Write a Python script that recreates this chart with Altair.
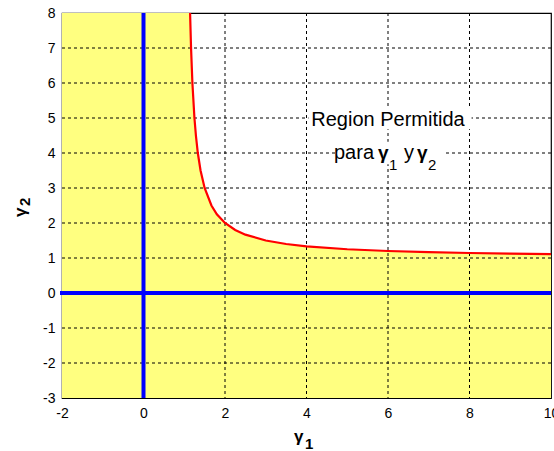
import altair as alt
import pandas as pd

# Curve gamma2 vs gamma1
curve_x = [1.143, 1.167, 1.2, 1.25, 1.286, 1.333, 1.4, 1.5, 1.667, 1.8, 2.0, 2.25, 2.5, 3.0, 3.5, 4.0, 5.0, 6.0, 7.0, 8.0, 9.0, 10.0]
curve_y = [8.0, 7.0, 6.0, 5.0, 4.5, 4.0, 3.5, 3.0, 2.5, 2.25, 2.0, 1.8, 1.667, 1.5, 1.4, 1.333, 1.25, 1.2, 1.167, 1.143, 1.125, 1.111]

x_ticks = [-2, 0, 2, 4, 6, 8, 10]
y_ticks = [-3, -2, -1, 0, 1, 2, 3, 4, 5, 6, 7, 8]
x_grid = [0, 2, 4, 6, 8]
y_grid = [-2, -1, 0, 1, 2, 3, 4, 5, 6, 7]

# annotation text pieces (rich text split into parts)
piece_text = ["Region Permitida", "para", "γ", "1", "y", "γ", "2"]
piece_size = [20, 20, 19, 15, 20, 19, 15]
piece_weight = ["normal", "normal", "bold", "normal", "normal", "bold", "normal"]
piece_align = ["center", "left", "left", "left", "left", "left", "left"]
piece_px = [326, 272, 316, 327, 342, 355, 366]
piece_py = [113, 146, 146, 157, 146, 146, 157]

title_text = ["γ", "1", "γ", "2"]
title_size = [17, 15, 17, 15]
title_angle = [0, 0, 270, 270]
title_px = [232, 243, -36, -32]
title_py = [429, 436, 204, 193]

box_x1 = [4.05, 4.75]
box_x2 = [8.05, 7.4]
box_y = [5.0, 4.0]

XMIN, XMAX, YMIN, YMAX = -2, 10, -3, 8

xs = alt.Scale(domain=[XMIN, XMAX], nice=False, zero=False)
ys = alt.Scale(domain=[YMIN, YMAX], nice=False, zero=False)

area_df = pd.DataFrame({
    "x": [XMIN] + curve_x,
    "y": [YMAX] + curve_y,
    "y0": [YMIN] * (len(curve_x) + 1),
})
curve_df = pd.DataFrame({"x": curve_x, "y": curve_y})

common = dict(grid=False, tickSize=0, labelFont="Liberation Sans", labelFontSize=14,
              labelColor="black", domain=False, title="",
              labelOverlap=False, labelFlush=False, labelExpr="'' + datum.value")
xaxis = alt.Axis(values=x_ticks, labelPadding=8, **common)
yaxis = alt.Axis(values=y_ticks, labelPadding=7, **common)

XQ = lambda f: alt.X(f, type="quantitative", scale=xs, axis=xaxis)
YQ = lambda f: alt.Y(f, type="quantitative", scale=ys, axis=yaxis)

area = alt.Chart(area_df).mark_area(color="#FFFF80", opacity=1, interpolate="linear").encode(
    x=XQ("x"), y=YQ("y"), y2="y0:Q",
)

vgrid = alt.Chart(pd.DataFrame({"x": x_grid})).mark_rule(
    color="black", strokeDash=[3, 3], strokeWidth=1).encode(
    x=XQ("x"), y=alt.value(0), y2=alt.value(385))
hgrid = alt.Chart(pd.DataFrame({"y": y_grid})).mark_rule(
    color="black", strokeDash=[3, 3], strokeWidth=1).encode(
    y=YQ("y"), x=alt.value(0), x2=alt.value(489))

box_df = pd.DataFrame({"x1": box_x1, "x2": box_x2, "y": box_y})
boxes = alt.Chart(box_df).transform_calculate(
    ya="datum.y + 0.32", yb="datum.y - 0.32").mark_rect(color="white").encode(
    x=XQ("x1"), x2="x2:Q", y=YQ("ya"), y2="yb:Q")

pieces_df = pd.DataFrame({"t": piece_text, "s": piece_size, "w": piece_weight,
                          "a": piece_align, "px": piece_px, "py": piece_py})
pieces = []
for al in ["center", "left"]:
    for wt in ["normal", "bold"]:
        sub = pieces_df[(pieces_df.a == al) & (pieces_df.w == wt)]
        if len(sub) == 0:
            continue
        pieces.append(alt.Chart(sub).mark_text(
            font="Liberation Sans", color="black", align=al, baseline="alphabetic",
            fontWeight=wt).encode(
            x=alt.X("px:Q", scale=None), y=alt.Y("py:Q", scale=None),
            text="t:N", size=alt.Size("s:Q", scale=None, legend=None)))

titles_df = pd.DataFrame({"t": title_text, "s": title_size, "ang": title_angle,
                          "px": title_px, "py": title_py})
titles = alt.Chart(titles_df).mark_text(
    font="Liberation Sans", color="black", align="left", baseline="alphabetic",
    fontWeight="bold").encode(
    x=alt.X("px:Q", scale=None), y=alt.Y("py:Q", scale=None),
    text="t:N", size=alt.Size("s:Q", scale=None, legend=None),
    angle=alt.Angle("ang:Q", scale=None))

red = alt.Chart(curve_df).mark_line(color="#FF0000", strokeWidth=2.2, clip=True).encode(
    x=XQ("x"), y=YQ("y"))

vblue = alt.Chart(pd.DataFrame({"x": [0]})).mark_rule(color="#0000FF", strokeWidth=4).encode(
    x=XQ("x"), y=alt.value(0), y2=alt.value(385))
hblue = alt.Chart(pd.DataFrame({"y": [0]})).mark_rule(color="#0000FF", strokeWidth=4).encode(
    y=YQ("y"), x=alt.value(-2), x2=alt.value(489))

chart = alt.layer(area, vgrid, hgrid, boxes, *pieces, titles, red, vblue, hblue).properties(
    width=489, height=385,
    autosize=alt.AutoSizeParams(type="none"),
    padding={"left": 62, "top": 13, "right": 3, "bottom": 53},
    background="white",
).configure_view(stroke="black", strokeWidth=1.2)

chart.save("out.html", embed_options={"renderer": "svg", "actions": False})
